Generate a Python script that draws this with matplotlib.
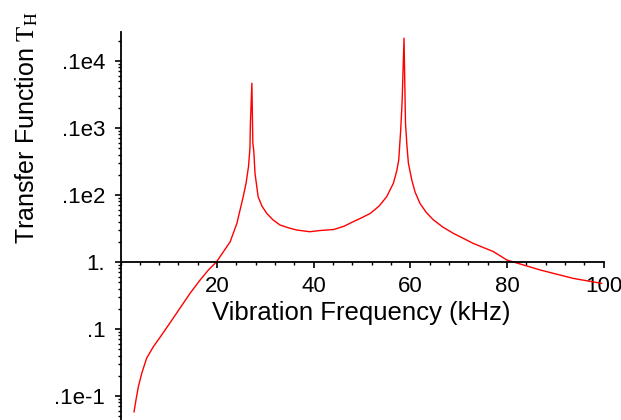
import numpy as np
import matplotlib.pyplot as plt
from matplotlib.ticker import FixedLocator, FixedFormatter, LogLocator, MultipleLocator

# values (frequency in kHz, transfer function)
freq = [2.8, 3.2, 3.7, 4.4, 5.4, 6.8, 8.5, 10.2, 12.3, 14.4, 16.5, 18.2, 19.9,
        22.7, 24.1, 25.4, 26.0, 26.5, 26.8, 26.9, 27.2, 27.4, 27.6, 27.85,
        28.5, 29.3, 30.3, 31.5, 33.0, 35.0, 36.5, 39.2, 41.3, 44.1,
        46.2, 48.2, 50.0, 51.7, 53.5, 55.1, 56.5, 57.2, 57.6, 58.0, 58.3,
        58.7, 59.0, 59.3, 59.6, 60.3, 61.0, 62.0, 63.3,
        64.8, 66.8, 68.9, 73.0, 77.2, 80.0, 86.9, 93.7, 99.6]
th = [0.0058, 0.0087, 0.0138, 0.0218, 0.0365, 0.0544, 0.081, 0.122, 0.204, 0.341, 0.54, 0.76, 1.01,
      2.0, 3.78, 9.4, 15, 26.5, 50, 120, 465, 60, 45, 21,
      9.4, 6.8, 5.3, 4.3, 3.57, 3.2, 3.0, 2.83, 2.95, 3.05,
      3.4, 4.0, 4.6, 5.3, 6.8, 9.4, 15, 23, 33, 90, 240,
      2190, 120, 55, 30, 16.8, 11, 7.5, 5.5,
      4.24, 3.3, 2.68, 1.9, 1.43, 1.07, 0.76, 0.57, 0.48]

ytick_vals = [0.01, 0.1, 1, 10, 100, 1000]
ytick_txt = ['.1e-1', '.1', '1.', '.1e2', '.1e3', '.1e4']
xtick_vals = [20, 40, 60, 80, 100]

plt.rcParams['font.family'] = ['Liberation Sans', 'DejaVu Sans']
plt.rcParams['mathtext.fontset'] = 'stix'

fig = plt.figure(figsize=(6.21, 4.20), dpi=100)
ax = fig.add_axes([120.5/621, 0.0, (603.5-120.5)/621, (420-32)/420])

ax.plot(freq, th, color='#ff0000', lw=1.0)

ax.set_yscale('log')
ax.set_xlim(0, 100)
ax.set_ylim(10**(-158/67.0), 10**(230/67.0))

for s in ['top', 'right']:
    ax.spines[s].set_visible(False)
ax.spines['bottom'].set_position(('data', 1))
ax.spines['left'].set_linewidth(1.3)
ax.spines['bottom'].set_linewidth(1.3)

ax.xaxis.set_major_locator(FixedLocator(xtick_vals))
ax.xaxis.set_minor_locator(MultipleLocator(4))
ax.yaxis.set_major_locator(FixedLocator(ytick_vals))
ax.yaxis.set_major_formatter(FixedFormatter(ytick_txt))
ax.yaxis.set_minor_locator(LogLocator(base=10, subs=np.arange(2, 10)))
ax.yaxis.set_minor_formatter(plt.NullFormatter())

ax.tick_params(axis='both', which='major', labelsize=16, length=4, width=1.2, direction='out', color='black')
ax.tick_params(axis='both', which='minor', length=2.5, width=1.0, direction='out')
ax.tick_params(axis='x', which='major', pad=6)
ax.tick_params(axis='y', which='major', pad=7)

fig.text(361/621, 1-313/420, 'Vibration Frequency (kHz)', fontsize=18.5, ha='center', va='center')
fig.text(27/621, 1-128/420, r'Transfer Function $\mathrm{T_H}$', fontsize=18,
         ha='center', va='center', rotation=90)

fig.savefig('out.png', dpi=100)
